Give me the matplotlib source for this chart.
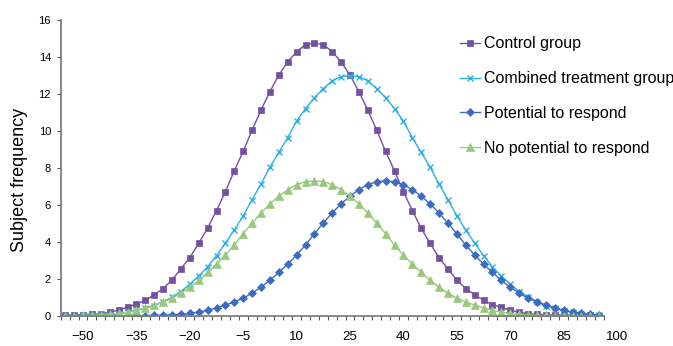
import numpy as np
import matplotlib.pyplot as plt

plt.rcParams['font.family'] = ['Liberation Sans', 'DejaVu Sans']

# x categories: -55 to 95 in steps of 2.5
x = np.arange(-55, 95.01, 2.5)

control = [0.05, 0.06, 0.08, 0.09, 0.12, 0.20, 0.32, 0.48, 0.64, 0.85,
           1.15, 1.48, 1.95, 2.55, 3.16, 3.92, 4.75, 5.70, 6.72, 7.85,
           8.90, 10.05, 11.13, 12.13, 13.02, 13.74, 14.29, 14.67, 14.75,
           14.67, 14.29, 13.74, 13.02, 12.13, 11.13, 10.05, 8.90, 7.85, 6.72,
           5.70, 4.75, 3.92, 3.16, 2.55, 1.95, 1.48, 1.15, 0.85, 0.62,
           0.47, 0.31, 0.20, 0.12, 0.09, 0.07, 0.06, 0.05, 0.04, 0.03,
           0.03, 0.02]

combined = [0.02, 0.02, 0.03, 0.04, 0.05, 0.08, 0.12, 0.20, 0.29, 0.42,
            0.56, 0.78, 1.01, 1.32, 1.73, 2.16, 2.66, 3.26, 3.94, 4.65,
            5.42, 6.29, 7.14, 8.04, 8.85, 9.64, 10.54, 11.21, 11.80, 12.29,
            12.71, 12.94, 13.00,
            12.94, 12.71, 12.29, 11.80, 11.21, 10.54, 9.64, 8.85, 8.04, 7.14,
            6.29, 5.42, 4.65, 3.94, 3.26, 2.66, 2.16, 1.73, 1.32, 1.01,
            0.78, 0.56, 0.42, 0.29, 0.20, 0.12, 0.08, 0.05]

potential = [0.00, 0.00, 0.00, 0.01, 0.01, 0.01, 0.01, 0.01, 0.02, 0.02,
             0.03, 0.04, 0.06, 0.09, 0.14, 0.21, 0.31, 0.44, 0.59, 0.76,
             0.97, 1.23, 1.56, 1.92, 2.36, 2.80, 3.30, 3.83, 4.45, 5.02,
             5.57, 6.06, 6.48, 6.83, 7.10, 7.26, 7.30,
             7.26, 7.10, 6.83, 6.48, 6.06, 5.57, 5.02, 4.45, 3.83, 3.30,
             2.80, 2.36, 1.92, 1.56, 1.23, 0.97, 0.76, 0.59, 0.44, 0.31,
             0.21, 0.14, 0.09, 0.06]

no_potential = [0.02, 0.02, 0.03, 0.04, 0.06, 0.09, 0.14, 0.21, 0.31, 0.44,
                0.59, 0.76, 0.97, 1.23, 1.56, 1.92, 2.36, 2.80, 3.30, 3.83,
                4.45, 5.02, 5.57, 6.06, 6.48, 6.83, 7.10, 7.26, 7.30,
                7.26, 7.10, 6.83, 6.48, 6.06, 5.57, 5.02, 4.45, 3.83, 3.30,
                2.80, 2.36, 1.92, 1.56, 1.23, 0.97, 0.76, 0.59, 0.44, 0.31,
                0.21, 0.14, 0.09, 0.06, 0.04, 0.03, 0.02, 0.02,
                0.01, 0.01, 0.01, 0.01]

labels = ['Control group', 'Combined treatment group',
          'Potential to respond', 'No potential to respond']
colors = ['#7450a3', '#2bb0e6', '#3c6cc2', '#98c97c']
markers = ['s', 'x', 'D', '^']
msizes = [4.7, 4.5, 3.8, 5.2]
xticks = [-50, -35, -20, -5, 10, 25, 40, 55, 70, 85, 100]

fig = plt.figure(figsize=(6.73, 3.46), dpi=100)
ax = fig.add_axes([60.75 / 673, 30 / 346, 561.6 / 673, 296 / 346])

series = [control, combined, potential, no_potential]
for ys, lab, c, m, ms in zip(series, labels, colors, markers, msizes):
    ax.plot(x, ys, color=c, marker=m, markersize=ms, linewidth=1,
            markeredgewidth=1 if m == 'x' else 0.5, label=lab)

ax.set_xlim(-56.25, 101.5)
ax.set_ylim(0, 16)
ax.spines['top'].set_visible(False)
ax.spines['right'].set_visible(False)
ax.spines['bottom'].set_bounds(-56.25, 96.25)
for s in ['left', 'bottom']:
    ax.spines[s].set_color('#7f7f7f')
    ax.spines[s].set_linewidth(1.3)

ax.set_xticks(xticks)
ax.set_xticklabels([str(t).replace('-', '\u2212') for t in xticks], fontsize=9.5)
ax.set_xticks(np.arange(-56.25, 96.26, 2.5), minor=True)
ax.tick_params(axis='x', which='major', length=0, pad=11)
ax.tick_params(axis='x', which='minor', length=3, color='#555555', width=0.8)
ax.set_yticks(range(0, 17, 2))
ax.tick_params(axis='y', length=3, color='#555555', width=0.8, labelsize=8, pad=4)
ax.set_ylabel('Subject frequency', fontsize=13)
ax.yaxis.set_label_coords(-0.058, 0.46)

ax.legend(loc='upper left', bbox_to_anchor=(446 / 673, 1 - 22 / 346),
          bbox_transform=fig.transFigure, frameon=False, fontsize=11.5,
          numpoints=1, handlelength=1.25, handletextpad=0.2, labelspacing=1.24)

fig.savefig('out.png', dpi=100)
